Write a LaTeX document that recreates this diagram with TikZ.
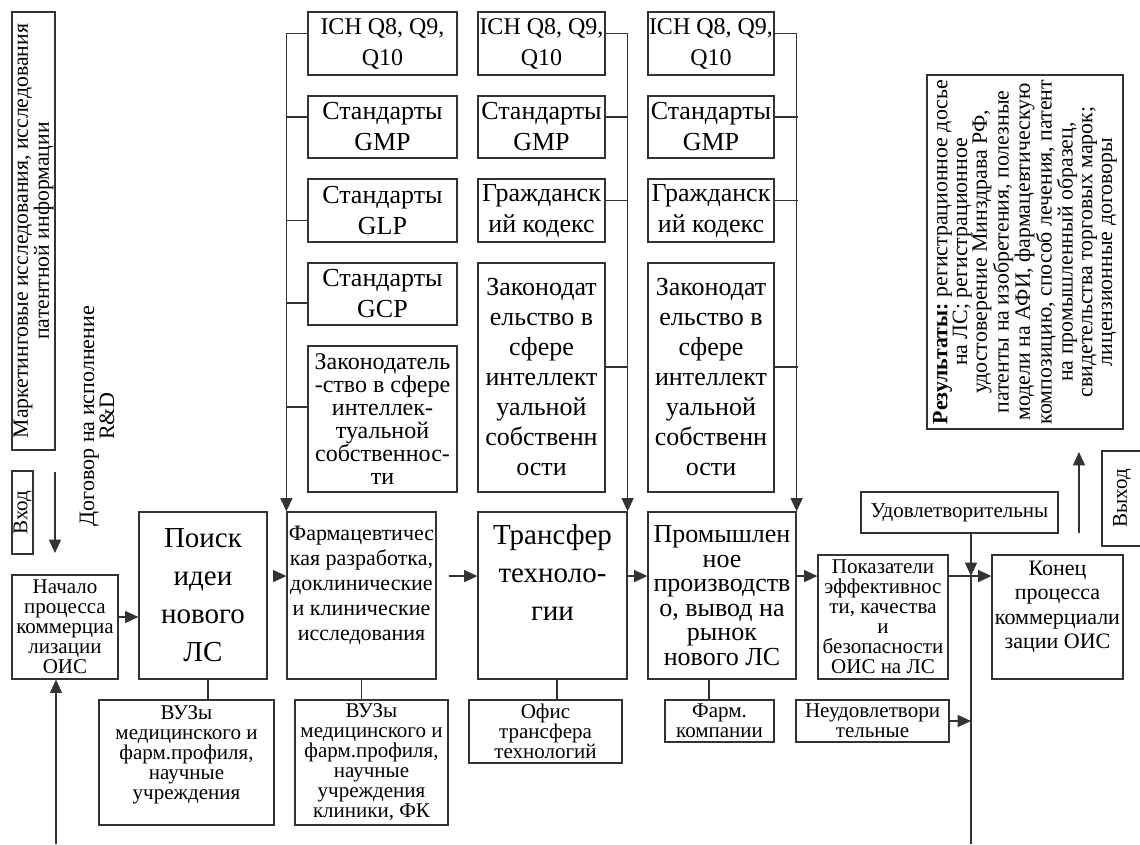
\documentclass[tikz,border=0pt]{standalone}
\usepackage{fontspec}
\setmainfont{Liberation Serif}
\usetikzlibrary{arrows.meta}
\newcommand\bx[7]{\node[box,minimum width={(#4-#2)*0.75pt},minimum height={(#5-#3)*0.75pt},#6] (#1) at ({(#2+#4)/2},{(#3+#5)/2}) {#7};}
\begin{document}
\begin{tikzpicture}[x=0.75pt,y=-0.75pt,
  box/.style={draw=black!80,line width=0.9pt,inner sep=0pt,align=center,text=black},
  ln/.style={draw=black!80,line width=0.9pt},
  arr/.style={ln,-{Triangle[length=10pt,width=9pt]}},
  fI/.style={font=\fontsize{18pt}{23.25pt}\selectfont},
  fA/.style={font=\fontsize{19.5pt}{23.25pt}\selectfont},
  fB/.style={font=\fontsize{19.5pt}{22.5pt}\selectfont},
  fC/.style={font=\fontsize{18pt}{17.25pt}\selectfont},
  fS/.style={font=\fontsize{15.75pt}{15pt}\selectfont},
  fBig/.style={font=\fontsize{21.75pt}{28.5pt}\selectfont},
  fPh/.style={font=\fontsize{16.5pt}{18.75pt}\selectfont},
  fPr/.style={font=\fontsize{19.5pt}{18.4pt}\selectfont},
  fK/.style={font=\fontsize{16.5pt}{18.4pt}\selectfont},
]
\useasboundingbox (0,0) rectangle (1140,844);
% column 1
\bx{ich1}{308}{12}{457}{75}{fI}{ICH~Q8,~Q9,\\Q10}
\bx{gmp1}{308}{96}{457}{158}{fA}{Стандарты\\GMP}
\bx{glp1}{308}{179}{457}{242}{fA}{Стандарты\\GLP}
\bx{gcp1}{308}{263}{457}{325}{fA}{Стандарты\\GCP}
\bx{zak1}{308}{346}{457}{492}{fC}{Законодатель\\-ство~в~сфере\\интеллек-\\туальной\\собственнос-\\ти}
% column 2
\bx{ich2}{478}{12}{605}{75}{fI}{ICH~Q8,~Q9,\\Q10}
\bx{gmp2}{478}{96}{605}{158}{fA}{Стандарты\\GMP}
\bx{grk2}{478}{179}{605}{242}{fA}{Гражданск\\ий~кодекс}
\bx{zak2}{478}{263}{605}{492}{fB}{Законодат\\ельство~в\\сфере\\интеллект\\уальной\\собственн\\ости}
% column 3
\bx{ich3}{648}{12}{774}{75}{fI}{ICH~Q8,~Q9,\\Q10}
\bx{gmp3}{648}{96}{774}{158}{fA}{Стандарты\\GMP}
\bx{grk3}{648}{179}{774}{242}{fA}{Гражданск\\ий~кодекс}
\bx{zak3}{648}{263}{774}{492}{fB}{Законодат\\ельство~в\\сфере\\интеллект\\уальной\\собственн\\ости}
% main row
\bx{nach}{12}{575}{118}{679}{fS}{Начало\\процесса\\коммерциа\\лизации\\ОИС}
\bx{poisk}{139}{512}{267}{679}{fBig}{Поиск\\идеи\\нового\\ЛС}
\bx{pharma}{287}{512}{436}{679}{fPh}{Фармацевтичес\\кая~разработка,\\доклинические\\и~клинические\\исследования\\ \mbox{}}
\bx{trans}{478}{512}{627}{679}{fBig}{Трансфер\\техноло-\\гии\\[6pt] \mbox{}}
\bx{prom}{648}{512}{796}{679}{fPr}{Промышлен\\ное\\производств\\о,~вывод~на\\рынок\\нового~ЛС}
\bx{pokaz}{818}{555}{948}{679}{fS}{Показатели\\эффективнос\\ти,~качества\\и\\безопасности\\ОИС~на~ЛС}
\bx{konec}{992}{555}{1123}{679}{fK}{Конец\\процесса\\коммерциали\\зации~ОИС\\ \mbox{}}
\bx{udov}{861}{492}{1058}{533}{fS}{Удовлетворительны}
\bx{neud}{796}{700}{949}{742}{fS}{Неудовлетвори\\тельные}
% bottom row
\bx{vuz1}{99}{700}{274}{825}{fS}{ВУЗы\\медицинского~и\\фарм.профиля,\\научные\\учреждения\\ \mbox{}}
\bx{vuz2}{295}{700}{448}{825}{fS}{ВУЗы\\медицинского~и\\фарм.профиля,\\научные\\учреждения\\клиники,~ФК}
\bx{ofis}{469}{700}{622}{763}{fS}{Офис\\трансфера\\технологий}
\bx{farm}{665}{700}{774}{742}{fS}{Фарм.\\компании}
% rotated boxes
\node[box,rotate=90,minimum width=438*0.75pt,minimum height=43*0.75pt,font=\fontsize{16.3pt}{13.5pt}\selectfont] (mark) at (33.5,231) {Маркетинговые~исследования,~исследования\\патентной~информации};
\node[box,rotate=90,minimum width=83*0.75pt,minimum height=21*0.75pt,font=\fontsize{15.75pt}{15pt}\selectfont] (vhod) at (22.5,512.5) {Вход};
\node[box,rotate=90,minimum width=95*0.75pt,minimum height=40*0.75pt,font=\fontsize{15.75pt}{15pt}\selectfont] (vyhod) at (1122,498.5) {Выход};
\node[rotate=90,align=center,inner sep=0pt,font=\fontsize{16.5pt}{15pt}\selectfont] (dog) at (97,416) {Договор~на~исполнение\\R\&D};
\node[box,rotate=90,minimum width=354*0.75pt,minimum height=196*0.75pt,font=\fontsize{16.4pt}{14.8pt}\selectfont] (res) at (1025,252) {\textbf{Результаты:}~регистрационное~досье\\на~ЛС;~регистрационное\\удостоверение~Минздрава~РФ,\\патенты~на~изобретения,~полезные\\модели~на~АФИ,~фармацевтическую\\композицию,~способ~лечения,~патент\\на~промышленный~образец,\\свидетельства~торговых~марок;\\лицензионные~договоры};
% trunks from regulation columns
\draw[arr] ([yshift=7.5pt]ich1.west) -| (pharma.north west);
\draw[ln] ([yshift=7.5pt]gmp1.west) -- ++(-20,0);
\draw[ln] ([yshift=-7.5pt]glp1.west) -- ++(-20,0);
\draw[ln] ([yshift=-6.75pt]gcp1.west) -- ++(-20,0);
\draw[ln] ([yshift=9pt]zak1.west) -- ++(-20,0);
\draw[arr] ([yshift=7.5pt]ich2.east) -| (trans.north east);
\draw[ln] ([yshift=7.5pt]gmp2.east) -- ++(22,0);
\draw[ln] ([yshift=7.5pt]grk2.east) -- ++(22,0);
\draw[ln] ([yshift=7.9pt]zak2.east) -- ++(22,0);
\draw[arr] ([yshift=7.5pt]ich3.east) -| (prom.north east);
\draw[ln] ([yshift=7.5pt]gmp3.east) -- ++(23,0);
\draw[ln] ([yshift=7.5pt]grk3.east) -- ++(23,0);
\draw[ln] ([yshift=7.9pt]zak3.east) -- ++(23,0);
% main flow
\coordinate (a1) at ([yshift=7.5pt]nach.east);
\draw[arr] (a1) -- (a1 -| poisk.west);
\coordinate (a2) at ([xshift=5pt,yshift=14.6pt]poisk.east);
\draw[arr] (a2) -- (a2 -| pharma.west);
\coordinate (a3) at ([xshift=9pt,yshift=14.6pt]pharma.east);
\draw[arr] (a3) -- (a3 -| trans.west);
\coordinate (a4) at ([yshift=14.6pt]trans.east);
\draw[arr] (a4) -- (a4 -| prom.west);
\coordinate (a5) at ([yshift=14.6pt]prom.east);
\draw[arr] (a5) -- (a5 -| pokaz.west);
\coordinate (a6) at (pokaz.east |- a5);
\draw[arr] (a6) -- (a6 -| konec.west);
\coordinate (rb) at (971,844);
\coordinate (rj) at (rb |- a5);
\draw[arr] (udov.south -| rb) -- (rj);
\draw[ln] (rj) -- (rb);
\draw[arr] (neud.east) -- (neud.east -| rb);
\coordinate (inb) at (56,844);
\draw[arr] (inb) -- (nach.south -| inb);
\coordinate (va) at (55,472);
\coordinate (vb) at (55,553);
\draw[arr] (va) -- (vb);
\coordinate (xa) at (1079,533);
\coordinate (xb) at (1079,452);
\draw[arr] (xa) -- (xb);
% bottom links
\coordinate (b1) at ([xshift=3.75pt]poisk.south);
\draw[ln] (b1) -- (b1 |- vuz1.north);
\draw[ln] (pharma.south) -- (pharma.south |- vuz2.north);
\coordinate (b3) at ([xshift=3.4pt]trans.south);
\draw[ln] (b3) -- (b3 |- ofis.north);
\coordinate (b4) at ([xshift=-9.75pt]prom.south);
\draw[ln] (b4) -- (b4 |- farm.north);
\end{tikzpicture}
\end{document}
